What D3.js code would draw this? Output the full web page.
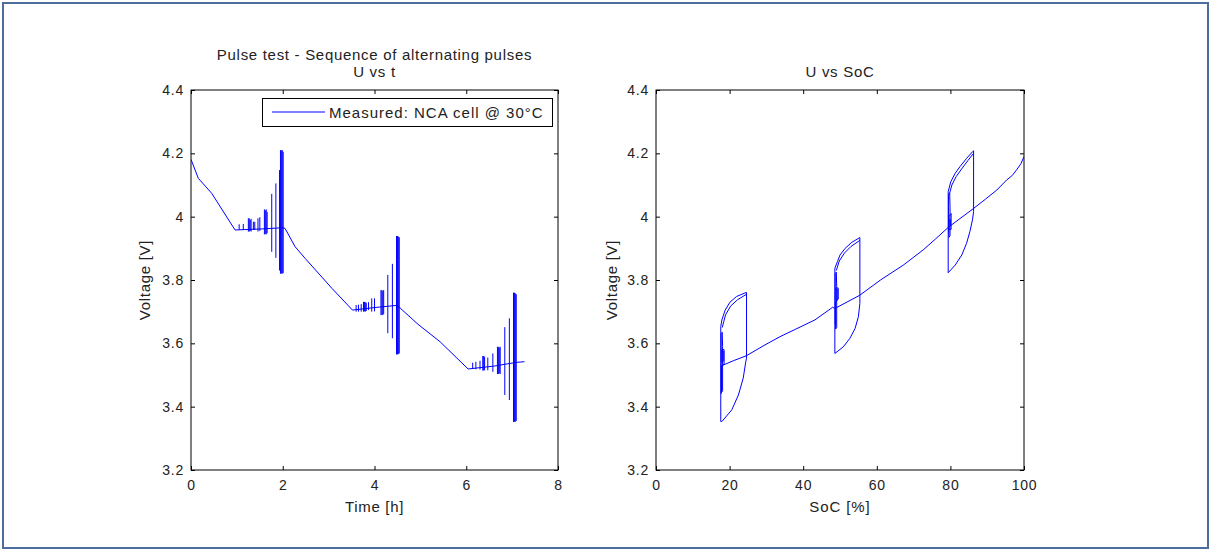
<!DOCTYPE html>
<html><head><meta charset="utf-8">
<script src="https://cdn.jsdelivr.net/npm/d3@7"></script>
<style>
body{margin:0;background:#fff}
svg{display:block}
text{font-family:"Liberation Sans",Arial,Helvetica,sans-serif;fill:#222}
</style>
</head><body><svg id="c" width="1212" height="552"></svg>
<script>
// ---------- data ----------
const voltTicks = [3.2, 3.4, 3.6, 3.8, 4, 4.2, 4.4];
const timeTicks = [0, 2, 4, 6, 8];
const socTicks = [0, 20, 40, 60, 80, 100];

const titleLeft = ["Pulse test - Sequence of alternating pulses", "U vs t"];
const titleRight = "U vs SoC";
const legendLabel = "Measured: NCA cell @ 30°C";

// U vs t : trace between the pulse groups
const baseT = [0, 0.16, 0.45, 0.96, 1.5, 2.0, 2.05, 2.27, 2.49, 3.07, 3.52, 4.0, 4.5, 4.6, 4.95, 5.43, 6.04, 6.6, 7.1, 7.27];
const baseV = [4.181, 4.121, 4.074, 3.958, 3.961, 3.965, 3.963, 3.905, 3.868, 3.774, 3.705, 3.713, 3.72, 3.706, 3.66, 3.605, 3.519, 3.528, 3.54, 3.542];

// U vs t : pulses (time, max voltage, min voltage)
const pulseT  = [1.05, 1.14, 1.25, 1.27, 1.29, 1.31, 1.36, 1.39, 1.46, 1.50, 1.60, 1.62, 1.64, 1.66, 1.76, 1.85, 1.93, 1.95, 1.97, 1.99, 2.01,
                 3.60, 3.65, 3.71, 3.76, 3.78, 3.80, 3.82, 3.87, 3.94, 4.00, 4.14, 4.16, 4.18, 4.20, 4.29, 4.39, 4.48, 4.50, 4.52, 4.54,
                 6.14, 6.21, 6.30, 6.36, 6.38, 6.40, 6.47, 6.58, 6.68, 6.70, 6.72, 6.74, 6.84, 6.94, 7.03, 7.05, 7.07, 7.09];
const pulseHi = [3.976, 3.977, 3.995, 3.995, 3.990, 3.993, 3.984, 3.984, 3.995, 3.998, 4.023, 4.020, 4.023, 4.015, 4.072, 4.105, 4.147, 4.210, 4.210, 4.210, 4.205,
                 3.721, 3.722, 3.724, 3.731, 3.731, 3.730, 3.728, 3.730, 3.742, 3.742, 3.768, 3.768, 3.766, 3.768, 3.816, 3.851, 3.939, 3.939, 3.937, 3.935,
                 3.539, 3.542, 3.545, 3.560, 3.560, 3.558, 3.555, 3.568, 3.589, 3.589, 3.587, 3.589, 3.651, 3.679, 3.760, 3.760, 3.758, 3.755];
const pulseLo = [3.958, 3.958, 3.953, 3.953, 3.955, 3.953, 3.958, 3.958, 3.953, 3.955, 3.944, 3.945, 3.944, 3.948, 3.889, 3.870, 3.830, 3.820, 3.820, 3.820, 3.822,
                 3.700, 3.700, 3.700, 3.700, 3.701, 3.700, 3.702, 3.705, 3.700, 3.701, 3.689, 3.690, 3.689, 3.692, 3.632, 3.616, 3.565, 3.565, 3.566, 3.568,
                 3.519, 3.518, 3.517, 3.514, 3.514, 3.515, 3.515, 3.510, 3.503, 3.503, 3.505, 3.503, 3.437, 3.421, 3.352, 3.352, 3.352, 3.355];

// U vs SoC : main trace
const socMain = [100, 99.2, 98, 96.8, 95.3, 92.6, 89.5, 86.3, 79.4, 76, 72.6, 67.2, 61, 55.4, 48.6, 48.0, 47.3, 43.2, 38, 33.7, 29.6, 24.6, 21, 17.6];
const voltMain = [4.19, 4.168, 4.148, 4.13, 4.116, 4.084, 4.055, 4.026, 3.966, 3.93, 3.895, 3.847, 3.8, 3.752, 3.71, 3.714, 3.708, 3.674, 3.645, 3.621, 3.595, 3.561, 3.545, 3.528];

// U vs SoC : pulse loops [SoC, V]
const loop1 = [[79.4,3.823],[79.4,4.079],[80.1,4.11],[81.3,4.137],[82.6,4.158],[84.4,4.184],[86.0,4.205],[86.3,4.208],[86.3,4.016],[86.0,3.99],[85.3,3.953],[84.4,3.916],[83.1,3.879],[81.3,3.847],[79.4,3.823]];
const loop1b = [[79.7,4.07],[80.4,4.10],[81.6,4.127],[83.0,4.15],[84.8,4.178],[86.3,4.20]];
const loop1c = [[79.5,3.95],[79.5,4.07],[79.8,4.075],[79.9,4.03],[79.9,3.94],[79.6,3.935],[79.6,4.0],[80.2,4.01],[80.2,3.96],[79.6,3.96],[79.6,3.99],[80.0,3.99],[80.0,3.97]];
const loop2 = [[48.6,3.568],[48.6,3.837],[49.3,3.858],[50.0,3.879],[51.4,3.90],[53.2,3.919],[55.4,3.934],[55.4,3.726],[55.0,3.684],[54.1,3.647],[52.7,3.616],[50.9,3.589],[48.6,3.568]];
const loop2b = [[49.0,3.83],[49.8,3.86],[51.2,3.885],[53.0,3.906],[55.4,3.925]];
const loop2c = [[48.7,3.66],[48.7,3.82],[49.0,3.825],[49.1,3.78],[49.1,3.65],[48.8,3.645],[48.8,3.73],[49.5,3.74],[49.5,3.775],[48.9,3.775],[48.9,3.735],[49.4,3.74],[49.4,3.77],[49.0,3.77]];
const loop3 = [[17.6,3.353],[17.6,3.653],[17.9,3.674],[18.8,3.705],[20.1,3.73],[21.9,3.748],[24.6,3.761],[24.6,3.553],[24.4,3.542],[23.7,3.49],[22.4,3.437],[20.6,3.39],[17.9,3.353],[17.6,3.353]];
const loop3b = [[18.0,3.65],[18.9,3.69],[20.3,3.718],[22.2,3.738],[24.6,3.755]];
const loop3c = [[17.7,3.44],[17.7,3.63],[18.0,3.635],[18.1,3.59],[18.1,3.45],[17.8,3.445],[17.8,3.53],[18.5,3.535],[18.5,3.58],[17.9,3.58],[17.9,3.54],[18.4,3.545],[18.4,3.575],[18.0,3.575]];

// ---------- drawing ----------
const svg = d3.select("#c");
const blue = "#0000ff";
const FONT = '"Liberation Sans",Arial,Helvetica,sans-serif';

svg.append("rect").attr("x", 3).attr("y", 3).attr("width", 1205).attr("height", 545)
  .attr("fill", "#fff").attr("stroke", "#4d6d9c").attr("stroke-width", 2);

const yL = d3.scaleLinear().domain([3.2, 4.4]).range([470, 90]);
const xT = d3.scaleLinear().domain([0, 8]).range([191, 558]);
const xS = d3.scaleLinear().domain([0, 100]).range([656, 1024]);

function frame(x, xticks, id) {
  const [x0, x1] = x.range();
  const g = svg.append("g");
  const defs = svg.append("defs");
  defs.append("clipPath").attr("id", id).append("rect")
    .attr("x", x0).attr("y", 90).attr("width", x1 - x0).attr("height", 380);
  const bottom = g.append("g").attr("transform", "translate(0,470)")
    .call(d3.axisBottom(x).tickValues(xticks).tickSizeInner(-4).tickSizeOuter(0).tickPadding(10).tickFormat(d3.format("d")));
  const top = g.append("g").attr("transform", "translate(0,90)")
    .call(d3.axisTop(x).tickValues(xticks).tickSizeInner(-4).tickSizeOuter(0).tickFormat(""));
  const left = g.append("g").attr("transform", `translate(${x0},0)`)
    .call(d3.axisLeft(yL).tickValues(voltTicks).tickSizeInner(-4).tickSizeOuter(0).tickPadding(7).tickFormat(d => d3.format("")(+d.toFixed(1))));
  const right = g.append("g").attr("transform", `translate(${x1},0)`)
    .call(d3.axisRight(yL).tickValues(voltTicks).tickSizeInner(-4).tickSizeOuter(0).tickFormat(""));
  [bottom, top, left, right].forEach(a => {
    a.select(".domain").remove();
    a.selectAll("line").attr("stroke", "#000");
    a.selectAll("text").attr("font-size", "14px").attr("fill", "#222")
      .attr("letter-spacing", "0.8px").attr("font-family", FONT);
  });
  g.append("rect").attr("x", x0).attr("y", 90).attr("width", x1 - x0).attr("height", 380)
    .attr("fill", "none").attr("stroke", "#000").attr("stroke-width", 1);
  return g;
}

// Left plot
frame(xT, timeTicks, "clipL");
const plotL = svg.append("g").attr("clip-path", "url(#clipL)");
const baseData = baseT.map((t, i) => [t, baseV[i]]);
plotL.append("path").datum(baseData)
  .attr("d", d3.line().x(d => xT(d[0])).y(d => yL(d[1])))
  .attr("fill", "none").attr("stroke", blue).attr("stroke-width", 1);
plotL.selectAll("line.p").data(pulseT.map((t, i) => ({t, hi: pulseHi[i], lo: pulseLo[i]})))
  .join("line").attr("class", "p")
  .attr("x1", d => xT(d.t)).attr("x2", d => xT(d.t))
  .attr("y1", d => yL(d.hi)).attr("y2", d => yL(d.lo))
  .attr("stroke", blue).attr("stroke-width", 1);

// Right plot
frame(xS, socTicks, "clipR");
const plotR = svg.append("g").attr("clip-path", "url(#clipR)");
const lineS = d3.line().x(d => xS(d[0])).y(d => yL(d[1]));
plotR.append("path").datum(socMain.map((s, i) => [s, voltMain[i]])).attr("d", lineS)
  .attr("fill", "none").attr("stroke", blue).attr("stroke-width", 1);
[loop1, loop1b, loop1c, loop2, loop2b, loop2c, loop3, loop3b, loop3c].forEach(l => {
  plotR.append("path").datum(l).attr("d", lineS)
    .attr("fill", "none").attr("stroke", blue).attr("stroke-width", 1);
});

// Titles & labels
function label(x, y, s, ls, rot) {
  const t = svg.append("text").attr("text-anchor", "middle").attr("font-size", "15px")
    .attr("letter-spacing", ls + "px").text(s);
  if (rot) t.attr("transform", `translate(${x},${y}) rotate(-90)`);
  else t.attr("x", x).attr("y", y);
  return t;
}
label(374.5, 60, titleLeft[0], 0.7);
label(374.5, 77, titleLeft[1], 0.7);
label(840, 77, titleRight, 0.7);
label(374.5, 512, "Time [h]", 0.7);
label(840, 512, "SoC [%]", 0.9);
label(150, 280, "Voltage [V]", 0.7, true);
label(617, 280, "Voltage [V]", 0.7, true);

// Legend
const lg = svg.append("g");
lg.append("rect").attr("x", 262.5).attr("y", 98.5).attr("width", 290).attr("height", 28)
  .attr("fill", "#fff").attr("stroke", "#000").attr("stroke-width", 1);
lg.append("line").attr("x1", 272).attr("x2", 325).attr("y1", 112).attr("y2", 112)
  .attr("stroke", blue).attr("stroke-width", 1);
lg.append("text").attr("x", 329).attr("y", 117.5).attr("font-size", "15px")
  .attr("letter-spacing", "1px").text(legendLabel);
</script></body></html>
